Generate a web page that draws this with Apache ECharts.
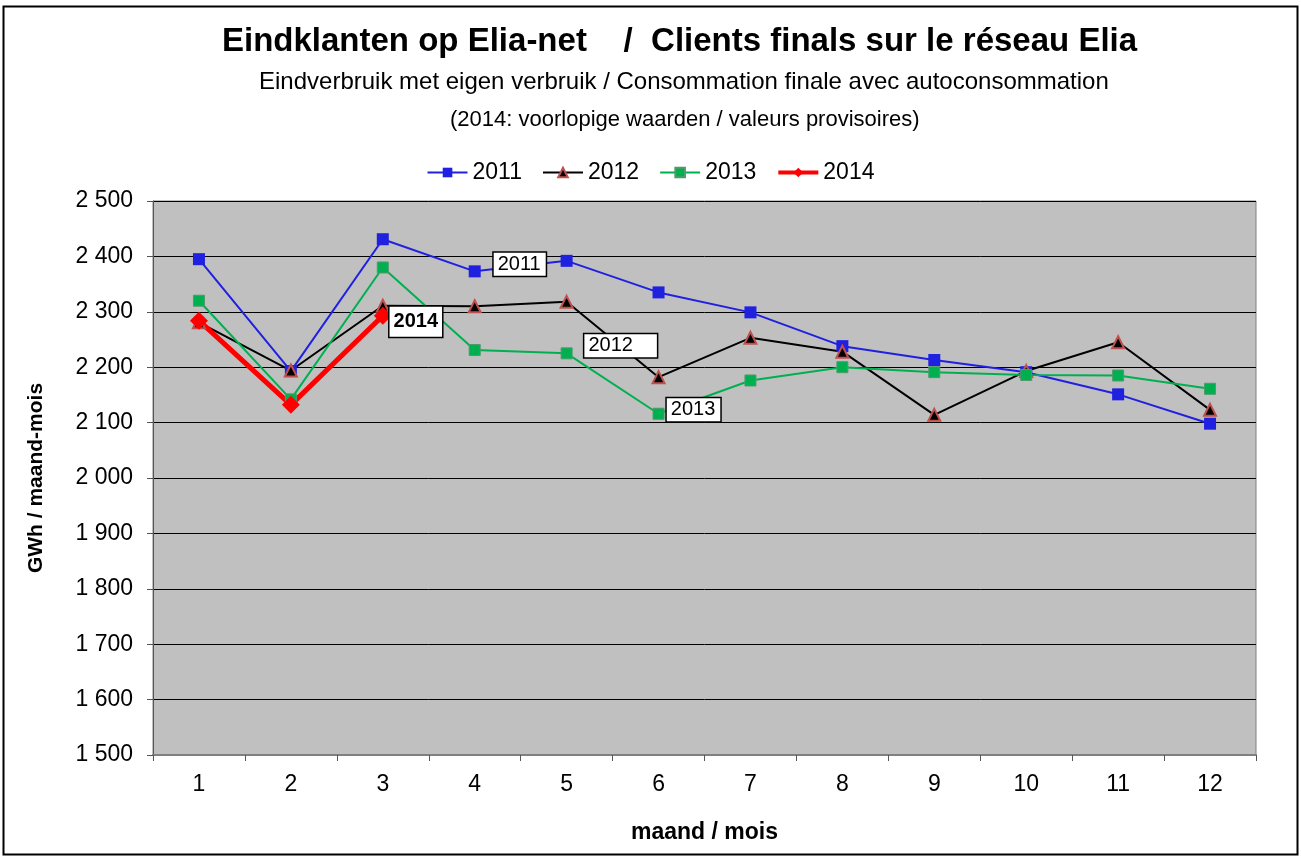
<!DOCTYPE html>
<html>
<head>
<meta charset="utf-8">
<script src="https://cdn.jsdelivr.net/npm/echarts@6/dist/echarts.min.js"></script>
<style>
    * { margin: 0; padding: 0; }
    body { background: #fff; }
    #chart { width: 1301px; height: 858px; }
</style>
</head>
<body>
<div id="chart"></div>
<script>
    // maanden / mois
    var months = ['1', '2', '3', '4', '5', '6', '7', '8', '9', '10', '11', '12'];
    // GWh per maand
    var y2011 = [2395, 2193, 2431, 2373, 2392, 2335, 2299, 2238, 2213, 2191, 2151, 2098];
    var y2012 = [2281, 2194, 2311, 2310, 2318, 2182, 2253, 2228, 2114, 2193, 2245, 2123];
    var y2013 = [2320, 2142, 2380, 2231, 2225, 2116, 2176, 2200, 2191, 2186, 2185, 2161];
    var y2014 = [2284, 2132, 2293];
    var yTicks = [1500, 1600, 1700, 1800, 1900, 2000, 2100, 2200, 2300, 2400, 2500];

    var font = 'Liberation Sans, Arial, sans-serif';

    // label box on one point of a series
    function boxLabel(values, idx, text, offset, bold, pad) {
        return values.map(function (v, i) {
            if (i !== idx) return v;
            return {
                value: v,
                label: {
                    show: true,
                    position: 'inside',
                    offset: offset,
                    formatter: text,
                    color: '#000',
                    fontFamily: font,
                    fontSize: 20,
                    fontWeight: bold ? 'bold' : 'normal',
                    backgroundColor: '#fff',
                    borderColor: '#000',
                    borderWidth: 1.5,
                    padding: pad
                }
            };
        });
    }

    var option = {
        backgroundColor: '#fff',
        animation: false,
        textStyle: { fontFamily: font },
        title: [
            {
                text: 'Eindklanten op Elia-net    /  Clients finals sur le réseau Elia',
                left: 217, top: 20,
                textStyle: { fontFamily: font, fontSize: 33, fontWeight: 'bold', color: '#000' }
            },
            {
                text: 'Eindverbruik met eigen verbruik / Consommation finale avec autoconsommation',
                left: 254, top: 65,
                textStyle: { fontFamily: font, fontSize: 24, fontWeight: 'normal', color: '#000' }
            },
            {
                text: '(2014: voorlopige waarden / valeurs provisoires)',
                left: 445, top: 104,
                textStyle: { fontFamily: font, fontSize: 22, fontWeight: 'normal', color: '#000' }
            }
        ],
        legend: {
            top: 156,
            left: 'center',
            itemWidth: 40,
            itemHeight: 12,
            itemGap: 20,
            textStyle: { fontFamily: font, fontSize: 23, color: '#000' },
            data: [
                { name: '2011' },
                { name: '2012' },
                { name: '2013' },
                { name: '2014', lineStyle: { width: 4 } }
            ]
        },
        grid: {
            left: 153, right: 45, top: 201, bottom: 103,
            show: true,
            backgroundColor: '#c0c0c0',
            borderColor: '#808080',
            borderWidth: 1
        },
        xAxis: {
            type: 'category',
            data: months,
            boundaryGap: true,
            name: 'maand / mois',
            nameLocation: 'middle',
            nameGap: 66,
            nameTextStyle: { fontFamily: font, fontSize: 23, fontWeight: 'bold', color: '#000' },
            axisLine: { lineStyle: { color: '#808080', width: 2 } },
            axisTick: { show: true, length: 6, lineStyle: { color: '#555' } },
            axisLabel: { fontFamily: font, fontSize: 23, color: '#000', margin: 18 }
        },
        yAxis: {
            type: 'value',
            min: yTicks[0],
            max: yTicks[yTicks.length - 1],
            interval: 100,
            name: 'GWh / maand-mois',
            nameLocation: 'middle',
            nameGap: 106,
            nameTextStyle: { fontFamily: font, fontSize: 21, fontWeight: 'bold', color: '#000' },
            axisLine: { show: true, lineStyle: { color: '#555', width: 1 } },
            axisTick: { show: true, length: 6, lineStyle: { color: '#555' } },
            axisLabel: {
                fontFamily: font, fontSize: 23, color: '#000', margin: 20,
                formatter: function (v) {
                    var s = String(v);
                    return s.length > 3 ? s.slice(0, s.length - 3) + ' ' + s.slice(-3) : s;
                }
            },
            splitLine: { show: true, lineStyle: { color: '#000', width: 1 } }
        },
        series: [
            {
                name: '2011', type: 'line',
                data: boxLabel(y2011, 3, '2011', [45, -7], false, [2, 5, 1, 4]),
                symbol: 'rect', symbolSize: 12,
                lineStyle: { color: '#2020e0', width: 2 },
                itemStyle: { color: '#2020e0' }
            },
            {
                name: '2012', type: 'line',
                data: boxLabel(y2012, 4, '2012', [54, 44], false, [3, 24, 0, 4]),
                symbol: 'triangle', symbolSize: 12,
                lineStyle: { color: '#000', width: 2 },
                itemStyle: { color: '#000', borderColor: '#c0504d', borderWidth: 2 }
            },
            {
                name: '2013', type: 'line',
                data: boxLabel(y2013, 5, '2013', [35, -4], false, [2, 5, 1, 4]),
                symbol: 'rect', symbolSize: 11,
                lineStyle: { color: '#00b050', width: 2 },
                itemStyle: { color: '#00b050', borderColor: '#4f9a6a', borderWidth: 1 }
            },
            {
                name: '2014', type: 'line',
                data: boxLabel(y2014, 2, '2014', [33, 6], true, [5, 4, 5, 4]),
                symbol: 'diamond', symbolSize: 18,
                lineStyle: { color: '#ff0000', width: 5 },
                itemStyle: { color: '#ff0000' }
            }
        ],
        graphic: [
            {
                type: 'rect',
                shape: { x: 3.5, y: 6.5, width: 1294, height: 848 },
                style: { fill: 'none', stroke: '#000', lineWidth: 2 },
                silent: true
            }
        ]
    };

    var myChart = echarts.init(document.getElementById('chart'));
    myChart.setOption(option);
</script>
</body>
</html>
